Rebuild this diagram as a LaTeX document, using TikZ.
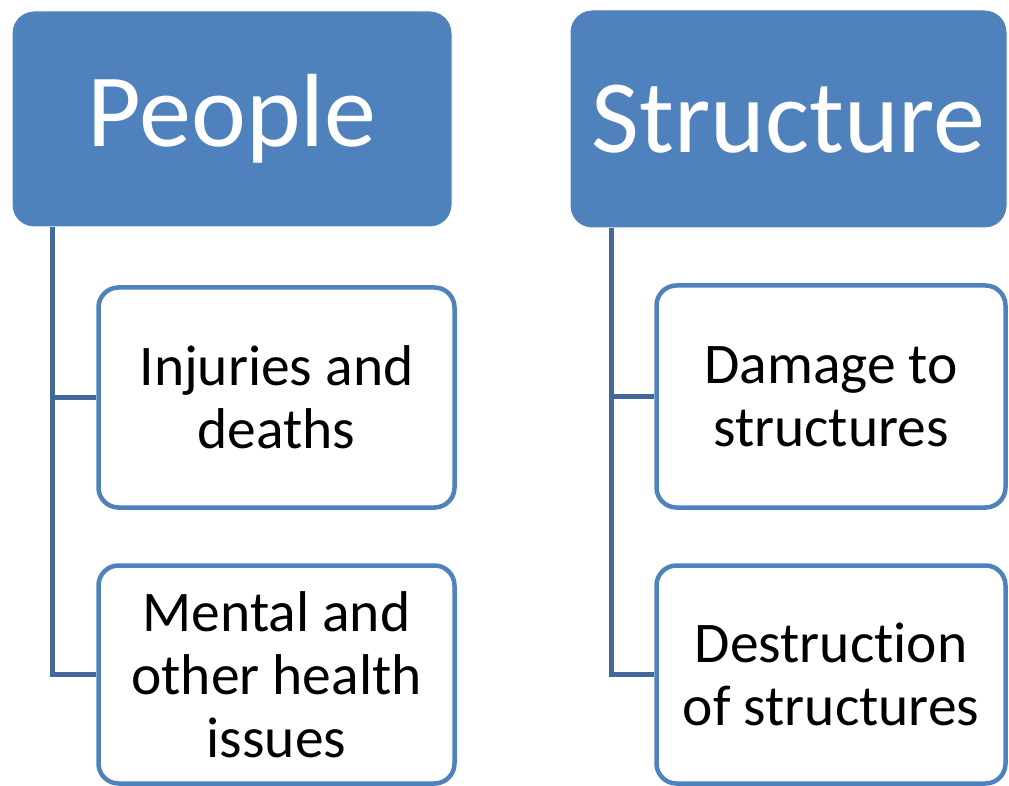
\documentclass[tikz,border=0pt]{standalone}
\usepackage{fontspec}
\setmainfont{Carlito}[Ligatures={NoCommon,NoContextual}]
\definecolor{hdrblue}{HTML}{4F81BD}
\definecolor{linkblue}{RGB}{66,104,156}
\begin{document}
\begin{tikzpicture}[x=1pt,y=1pt,
  header/.style={rectangle, rounded corners=22pt, fill=hdrblue, draw=white, line width=1pt,
    text=white, inner sep=0pt, font=\fontsize{104}{120}\selectfont},
  child/.style={rectangle, rounded corners=20pt, fill=white, draw=hdrblue, line width=4.5pt,
    text=black, inner sep=0pt, align=center, font=\fontsize{57.5}{63}\selectfont},
  link/.style={draw=linkblue, line width=4.2pt}]
\useasboundingbox (0,0) rectangle (1009,-786);
\fill[white] (0,0) rectangle (1009,-786);
% headers
\node[header, minimum width=440pt, minimum height=216pt] (people) at (232,-119) {People};
\node[header, minimum width=437pt, minimum height=218pt] (structure) at (788.5,-119) {Structure};
% children
\node[child, minimum width=356pt, minimum height=220pt] (injuries) at (276.5,-397.5) {Injuries and\\deaths};
\node[child, minimum width=356pt, minimum height=218pt] (mental) at (276.5,-674.5) {Mental and\\other health\\issues};
\node[child, minimum width=349pt, minimum height=222pt] (damage) at (831,-396.5) {Damage to\\structures};
\node[child, minimum width=349pt, minimum height=218pt] (destruction) at (831,-674.5) {Destruct\kern0pt ion\\of structures};
% connectors
\draw[link] ([xshift=41pt]people.south west) |- (injuries.west);
\draw[link] ([xshift=41pt]people.south west) |- (mental.west);
\draw[link] ([xshift=42pt]structure.south west) |- (damage.west);
\draw[link] ([xshift=42pt]structure.south west) |- (destruction.west);
\end{tikzpicture}
\end{document}
